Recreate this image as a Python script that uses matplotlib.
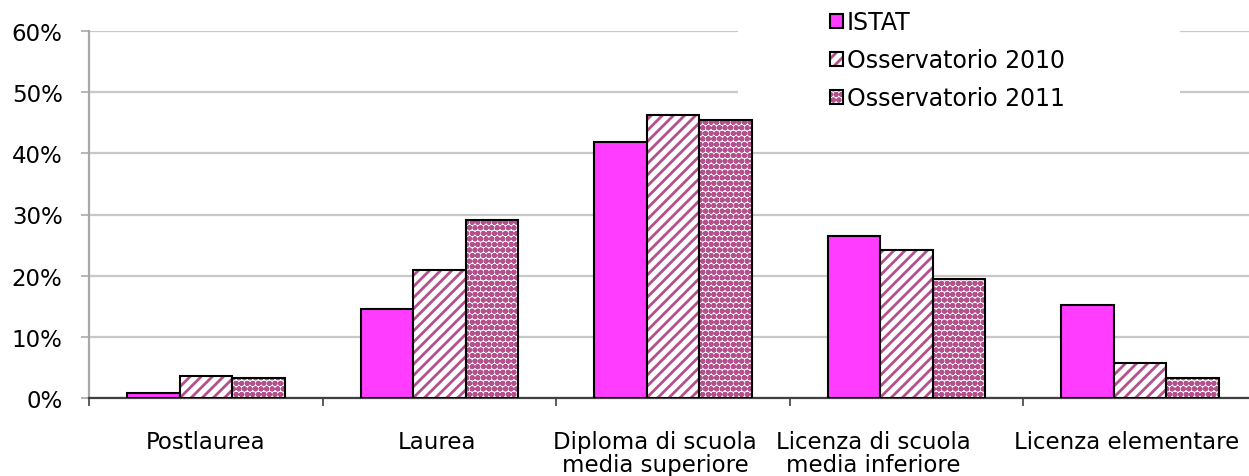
import matplotlib
matplotlib.use("Agg")
import matplotlib.pyplot as plt
import numpy as np
from matplotlib.patches import Rectangle, Patch
from matplotlib.legend_handler import HandlerTuple
from matplotlib.ticker import FixedLocator, PercentFormatter
import matplotlib.transforms as mtransforms

categories = ["Postlaurea", "Laurea", "Diploma di scuola\nmedia superiore",
              "Licenza di scuola\nmedia inferiore", "Licenza elementare"]
series_names = ["ISTAT", "Osservatorio 2010", "Osservatorio 2011"]
istat = [0.8, 14.5, 41.8, 26.5, 15.2]
oss_2010 = [3.6, 20.9, 46.2, 24.2, 5.7]
oss_2011 = [3.3, 29.1, 45.4, 19.4, 3.3]
y_ticks = [0, 10, 20, 30, 40, 50, 60]

MAGENTA = "#FF3CFF"
MAUVE = "#B4508C"

plt.rcParams["font.family"] = ["DejaVu Sans"]
plt.rcParams["hatch.linewidth"] = 2.0

W, H = 1249, 477
fig = plt.figure(figsize=(W / 100, H / 100), dpi=100)
ax = fig.add_axes([89 / W, (H - 399) / H, 1168 / W, 367 / H])

x = np.arange(len(categories))
bw = 0.225

# solid series
ax.bar(x - bw, istat, bw, color=MAGENTA, edgecolor="black", linewidth=1.5, zorder=3)

# hatched series: pattern layer + black outline layer
specs = [(oss_2010, "///", 0.0), (oss_2011, "ooo", bw)]
for vals, hatch, off in specs:
    ax.bar(x + off, vals, bw, color="white", edgecolor=MAUVE, hatch=hatch,
           linewidth=0, zorder=3)
    ax.bar(x + off, vals, bw, fill=False, edgecolor="black", linewidth=1.5, zorder=4)

ax.set_xlim(-0.5, len(categories) - 0.5)
ax.set_ylim(0, 60)

ax.yaxis.set_major_locator(FixedLocator(y_ticks))
ax.yaxis.set_major_formatter(PercentFormatter(decimals=0))
ax.grid(axis="y", color="#C8C8C8", linewidth=1.6, zorder=0)
ax.set_axisbelow(True)

# white panel behind the legend
ax.add_patch(Rectangle((0.5 + (738 - 89) / 233.6 - 1.0, 47.0),
                       (1180 - 738) / 233.6, 14.0,
                       facecolor="white", edgecolor="none", zorder=1,
                       clip_on=False))

for s in ("top", "right"):
    ax.spines[s].set_visible(False)
ax.spines["left"].set_color("#A8A8A8")
ax.spines["left"].set_linewidth(1.6)
ax.spines["bottom"].set_color("#404040")
ax.spines["bottom"].set_linewidth(1.6)

ax.tick_params(axis="y", which="major", direction="out", length=6, width=1.2,
               color="#A8A8A8", labelsize=16.5, pad=13, labelcolor="black")

ax.set_xticks(x)
ax.set_xticklabels(categories, fontsize=16.5, linespacing=1.0)
ax.set_xticks(np.arange(len(categories)) - 0.5, minor=True)
ax.tick_params(axis="x", which="major", length=0, pad=23)
ax.tick_params(axis="x", which="minor", direction="out", length=6, width=1.2,
               color="#404040")

shifts = [0, -2, -18, -33, -14]
for lab, dx in zip(ax.get_xticklabels(), shifts):
    lab.set_transform(lab.get_transform() +
                      mtransforms.ScaledTranslation(dx / 100, 0, fig.dpi_scale_trans))

handles = [
    Patch(facecolor=MAGENTA, edgecolor="black", linewidth=1.5),
    (Patch(facecolor="white", edgecolor=MAUVE, hatch="///", linewidth=0),
     Patch(fill=False, edgecolor="black", linewidth=1.5)),
    (Patch(facecolor="white", edgecolor=MAUVE, hatch="ooo", linewidth=0),
     Patch(fill=False, edgecolor="black", linewidth=1.5)),
]
fig.legend(handles, series_names, loc="upper left",
           bbox_to_anchor=(830 / W, 1 - 11 / H), frameon=False,
           fontsize=17, handlelength=0.55, handleheight=0.55,
           handletextpad=0.15, labelspacing=0.6, borderpad=0, borderaxespad=0,
           handler_map={tuple: HandlerTuple(ndivide=1)})

fig.savefig("out.png", dpi=100, facecolor="white")
